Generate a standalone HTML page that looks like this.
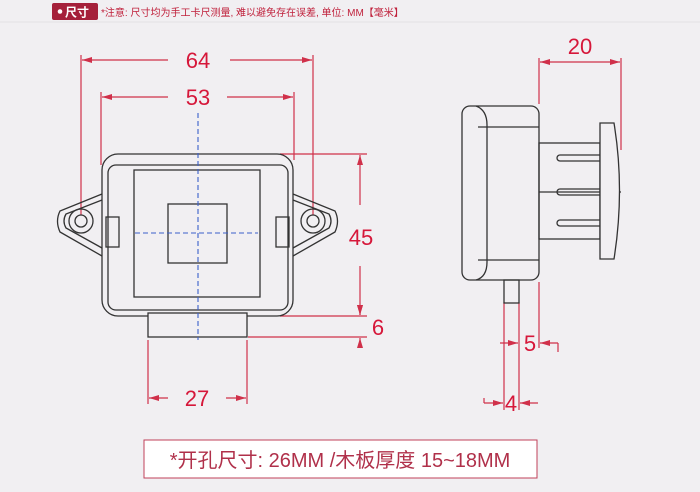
<!DOCTYPE html>
<html><head><meta charset="utf-8"><style>
html,body{margin:0;padding:0;background:#f1eff2;}
svg{display:block;font-family:"Liberation Sans","Noto Sans CJK SC",sans-serif;}
</style></head><body>
<svg width="700" height="492" viewBox="0 0 700 492" xmlns="http://www.w3.org/2000/svg">
<defs>
<marker id="a" viewBox="0 0 10 6" refX="10" refY="3" markerWidth="9" markerHeight="5" orient="auto-start-reverse"><path d="M0,0L10,3L0,6z" fill="#d0304a"/></marker>
</defs>
<rect width="700" height="492" fill="#f1eff2"/>
<line x1="0" y1="22" x2="700" y2="22" stroke="#e4e0e4"/>
<!-- header -->
<rect x="52" y="3" width="46" height="17" rx="2" fill="#a5203a"/>
<circle cx="60" cy="11.5" r="2.3" fill="#fff"/>
<text x="65" y="16.5" font-size="12" font-weight="bold" fill="#fff">尺寸</text>
<text x="101" y="16" font-size="10" fill="#c0213c">*注意: 尺寸均为手工卡尺测量, 难以避免存在误差, 单位: MM【毫米】</text>

<g stroke="#d0304a" stroke-width="1.2" fill="none">
<!-- 64 -->
<line x1="81" y1="55" x2="81" y2="215"/><line x1="313" y1="55" x2="313" y2="215"/>
<line x1="82" y1="60" x2="168" y2="60" marker-start="url(#a)"/><line x1="230" y1="60" x2="312" y2="60" marker-end="url(#a)"/>
<!-- 53 -->
<line x1="101" y1="92" x2="101" y2="165"/><line x1="294" y1="92" x2="294" y2="160"/>
<line x1="102" y1="97" x2="168" y2="97" marker-start="url(#a)"/><line x1="227" y1="97" x2="293" y2="97" marker-end="url(#a)"/>
<!-- 45 / 6 -->
<line x1="280" y1="154" x2="367" y2="154"/><line x1="280" y1="316" x2="367" y2="316"/><line x1="248" y1="337" x2="367" y2="337"/>
<line x1="360" y1="155" x2="360" y2="205" marker-start="url(#a)"/><line x1="360" y1="266" x2="360" y2="315" marker-end="url(#a)"/>
<line x1="360" y1="306" x2="360" y2="315" marker-end="url(#a)"/><line x1="360" y1="348" x2="360" y2="338" marker-end="url(#a)"/>
<!-- 27 -->
<line x1="148" y1="340" x2="148" y2="404"/><line x1="247" y1="340" x2="247" y2="404"/>
<line x1="149" y1="398" x2="168" y2="398" marker-start="url(#a)"/><line x1="226" y1="398" x2="246" y2="398" marker-end="url(#a)"/>
<!-- 20 -->
<line x1="539" y1="58" x2="539" y2="104"/><line x1="621" y1="58" x2="621" y2="150"/>
<line x1="540" y1="62" x2="620" y2="62" marker-start="url(#a)" marker-end="url(#a)"/>
<!-- 5 / 4 -->
<line x1="504" y1="302" x2="504" y2="410"/><line x1="519" y1="302" x2="519" y2="410"/><line x1="539" y1="282" x2="539" y2="348"/>
<line x1="500" y1="343" x2="518" y2="343" marker-end="url(#a)"/><line x1="558" y1="343" x2="540" y2="343" marker-end="url(#a)"/><line x1="558" y1="343" x2="558" y2="352"/>
<line x1="484" y1="403" x2="503" y2="403" marker-end="url(#a)"/><line x1="484" y1="403" x2="484" y2="398"/><line x1="538" y1="403" x2="520" y2="403" marker-end="url(#a)"/>
</g>
<g fill="#d6173a" font-size="22" text-anchor="middle">
<text x="198" y="68">64</text><text x="198" y="105">53</text>
<text x="361" y="245">45</text><text x="378" y="335">6</text>
<text x="197" y="406">27</text><text x="580" y="54">20</text>
<text x="530" y="351">5</text><text x="511" y="411">4</text>
</g>

<!-- front view -->
<g stroke="#333" stroke-width="1.3" fill="none">
<path d="M102,194 L60,211 Q55,221 60,232 L102,256"/><path d="M102,200 L66,214 Q62,221 66,228 L102,248"/>
<circle cx="81" cy="221" r="12"/><circle cx="81" cy="221" r="6"/>
<path d="M293,194 L335,211 Q340,221 335,232 L293,256"/><path d="M293,200 L329,214 Q333,221 329,228 L293,248"/>
<circle cx="313" cy="221" r="12"/><circle cx="313" cy="221" r="6"/>
<rect x="102" y="154" width="191" height="162" rx="16"/>
<rect x="108" y="165" width="180" height="145" rx="8"/>
<rect x="134" y="170" width="126" height="127"/>
<rect x="168" y="204" width="59" height="59"/>
<rect x="106" y="217" width="13" height="30"/><rect x="276" y="217" width="13" height="30"/>
<rect x="148" y="313" width="99" height="24" fill="#f1eff2"/>
</g>
<g stroke="#3b5fc9" stroke-width="1.1" stroke-dasharray="5,3" fill="none">
<line x1="198" y1="113" x2="198" y2="340"/><line x1="135" y1="233" x2="258" y2="233"/>
</g>

<!-- side view -->
<g stroke="#333" stroke-width="1.3" fill="none">
<rect x="462" y="106" width="77" height="174" rx="8"/>
<path d="M476,106 Q487,110 487,125 L487,262 Q487,277 476,280"/>
<line x1="478" y1="127" x2="539" y2="127"/><line x1="478" y1="260" x2="539" y2="260"/>
<rect x="539" y="143" width="61" height="96"/>
<line x1="539" y1="192" x2="621" y2="192"/>
<path d="M600,155 L560,155 A3,3 0 0 0 560,161 L600,161"/>
<path d="M600,189 L560,189 A3,3 0 0 0 560,195 L600,195"/>
<path d="M600,220 L560,220 A3,3 0 0 0 560,226 L600,226"/>
<path d="M600,123 L614,123 Q625,190 614,259 L600,259 Z" fill="#f1eff2"/>
<rect x="504" y="280" width="15" height="23"/>
</g>

<!-- bottom note -->
<rect x="144" y="440" width="393" height="38" fill="#fff" stroke="#c0405a" stroke-width="1"/>
<text x="340" y="467" font-size="20" fill="#b0304a" text-anchor="middle">*开孔尺寸: 26MM /木板厚度 15~18MM</text>
</svg>
</body></html>
